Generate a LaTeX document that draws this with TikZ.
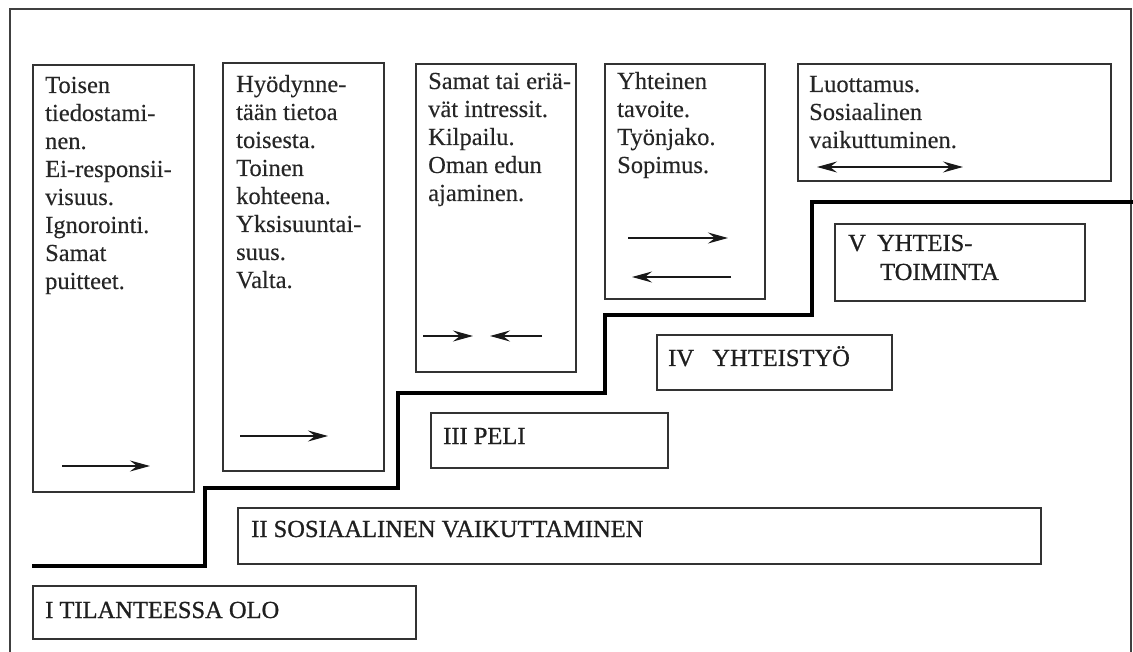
\documentclass[tikz,border=0pt]{standalone}
\usepackage{fontspec}
\setmainfont{Liberation Serif}
\newfontfamily\headfont[FakeBold=0.9]{Liberation Serif}
\newfontfamily\bodyfont[FakeBold=0.25]{Liberation Serif}
\usetikzlibrary{arrows.meta}
\tikzset{
  x=1pt, y=-1pt,
  box/.style={draw=black!80, line width=1.6pt, inner sep=0pt, anchor=north west, fill=none},
  txt/.style={inner sep=0pt, anchor=base west, text=black!85, font=\bodyfont\fontsize{24.5}{28}\selectfont},
  head/.style={inner sep=0pt, anchor=base west, text=black!88, font=\headfont\fontsize{24.5}{28}\selectfont},
  tip/.tip={Stealth[length=20pt,width=11pt,inset=7pt]},
  arr/.style={-tip, line width=1.5pt, black!90},
  darr/.style={tip-tip, line width=1.5pt, black!90},
  stair/.style={line width=3.5pt, black, line join=miter},
  frame/.style={line width=1.5pt, black!75}
}
\newcommand{\colbox}[2]{\parbox[t]{#1}{\raggedright #2}}
\begin{document}
\begin{tikzpicture}
\useasboundingbox (0,0) rectangle (1133,652);
% outer frame
\coordinate (f1) at (10,652);
\coordinate (f2) at (10,9);
\coordinate (f3) at (1131,9);
\coordinate (f4) at (1131,652);
\draw[frame] (f1) -- (f2) -- (f3) -- (f4);

% upper boxes
\node[box, minimum width=161pt, minimum height=427pt] (b1) at (32,64) {};
\node[box, minimum width=161pt, minimum height=408pt] (b2) at (222,62) {};
\node[box, minimum width=160pt, minimum height=308pt] (b3) at (415,63) {};
\node[box, minimum width=160pt, minimum height=235pt] (b4) at (604,63) {};
\node[box, minimum width=313pt, minimum height=117pt] (b5) at (797,63) {};

\node[txt] (t1) at (45,93) {\colbox{145pt}{Toisen\\tiedostami-\\nen.\\Ei-responsii-\\visuus.\\Ignorointi.\\Samat\\puitteet.}};
\node[txt] (t2) at (236,92) {\colbox{145pt}{Hyödynne-\\tään tietoa\\toisesta.\\Toinen\\kohteena.\\Yksisuuntai-\\suus.\\Valta.}};
\node[txt] (t3) at (428,89) {\colbox{148pt}{Samat tai eriä-\\vät intressit.\\Kilpailu.\\Oman edun\\ajaminen.}};
\node[txt] (t4) at (617,89) {\colbox{145pt}{Yhteinen\\tavoite.\\Työnjako.\\Sopimus.}};
\node[txt] (t5) at (809,92) {\colbox{250pt}{Luottamus.\\Sosiaalinen\\vaikuttuminen.}};

% arrows inside boxes
\coordinate (a1s) at (62,466);  \coordinate (a1e) at (150,466);
\coordinate (a2s) at (240,436); \coordinate (a2e) at (328,436);
\coordinate (a3s) at (423,336); \coordinate (a3e) at (473,336);
\coordinate (a3t) at (542,336); \coordinate (a3u) at (490,336);
\coordinate (a4s) at (628,238); \coordinate (a4e) at (728,238);
\coordinate (a4t) at (731,277); \coordinate (a4u) at (632,277);
\coordinate (a5s) at (817,167); \coordinate (a5e) at (963,167);
\draw[arr] (a1s) -- (a1e);
\draw[arr] (a2s) -- (a2e);
\draw[arr] (a3s) -- (a3e);
\draw[arr] (a3t) -- (a3u);
\draw[arr] (a4s) -- (a4e);
\draw[arr] (a4t) -- (a4u);
\draw[darr] (a5s) -- (a5e);

% staircase
\coordinate (s0) at (32,566);
\coordinate (s1) at (205,566);
\coordinate (s2) at (205,488);
\coordinate (s3) at (398,488);
\coordinate (s4) at (398,393);
\coordinate (s5) at (605,393);
\coordinate (s6) at (605,315);
\coordinate (s7) at (812,315);
\coordinate (s8) at (812,202);
\coordinate (s9) at (1133,202);
\draw[stair] (s0) -- (s1) -- (s2) -- (s3) -- (s4) -- (s5) -- (s6) -- (s7) -- (s8) -- (s9);

% level boxes
\node[box, minimum width=383pt, minimum height=53pt] (l1) at (32,585) {};
\node[box, minimum width=803pt, minimum height=56pt] (l2) at (237,507) {};
\node[box, minimum width=237pt, minimum height=55pt] (l3) at (430,412) {};
\node[box, minimum width=235pt, minimum height=55pt] (l4) at (656,334) {};
\node[box, minimum width=250pt, minimum height=77pt] (l5) at (834,223) {};

\node[head] (h1) at (45,618) {I TILANTEESSA OLO};
\node[head] (h2) at (251,537) {II SOSIAALINEN VAIKUTTAMINEN};
\node[head] (h3) at (443,444) {III PELI};
\node[head] (h4) at (668,366) {IV\hspace{0.5em} YHTEISTYÖ};
\node[head] (h5a) at (848,251) {V};
\node[head] (h5b) at (877,251) {YHTEIS-};
\node[head] (h5c) at (880,280) {TOIMINTA};
\end{tikzpicture}
\end{document}
